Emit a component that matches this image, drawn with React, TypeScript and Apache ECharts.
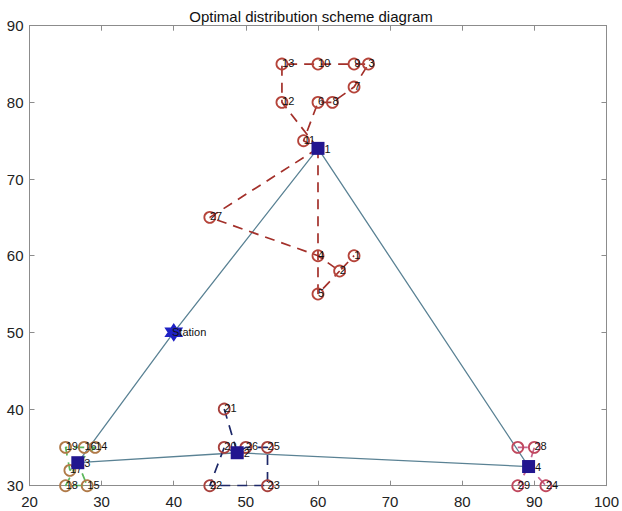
import React, { useEffect, useRef } from "react";
import * as echarts from "echarts";

const titleText = "Optimal distribution scheme diagram";
const xTicks = [20, 30, 40, 50, 60, 70, 80, 90, 100];
const yTicks = [30, 40, 50, 60, 70, 80, 90];

const station = [40, 50];
const stationName = "Station";

const centerNames = ["1", "2", "3", "4"];
const centerX = [60, 48.8, 26.7, 89.2];
const centerY = [74, 34.3, 33, 32.5];
// main route order (indices of centers), starts/ends at station
const mainRoute = [0, 3, 1, 2];

// cluster of center 1
const c1Labels = ["13", "10", "9", "3", "7", "12", "6", "8", "11", "27", "4", "2", "1", "5"];
const c1X = [55, 60, 65, 67, 65, 55, 60, 62, 58, 45, 60, 63, 65, 60];
const c1Y = [85, 85, 85, 85, 82, 80, 80, 80, 75, 65, 60, 58, 60, 55];
const c1Routes = [
  [-1, 5, 0, 1, 2, 3, 4, 7, 6, 8, -1],
  [-1, 9, 10, 11, 12],
  [-1, 13, 11],
];

// cluster of center 2
const c2Labels = ["21", "20", "26", "25", "22", "23"];
const c2X = [47, 47, 50, 53, 45, 53];
const c2Y = [40, 35, 35, 35, 30, 30];
const c2Routes = [[0, -1, 2, 3, 5, 4, 1, -1]];

// cluster of center 3
const c3Labels = ["19", "16", "14", "17", "18", "15"];
const c3X = [25, 27.6, 29.1, 25.6, 25, 28];
const c3Y = [35, 35, 35, 32, 30, 30];
const c3Routes = [
  [-1, 2, 1, 0, 3, -1],
  [-1, 4, 5, -1],
];

// cluster of center 4
const c4Labels = ["", "28", "29", "24"];
const c4X = [87.7, 90, 87.7, 91.6];
const c4Y = [35, 35, 30, 30];
const c4Routes = [
  [0, 1, -1, 3],
  [-1, 2],
];

const clusters = [
  { labels: c1Labels, xs: c1X, ys: c1Y, routes: c1Routes, lineColor: "#a3302a", circleColor: "#b5443a" },
  { labels: c2Labels, xs: c2X, ys: c2Y, routes: c2Routes, lineColor: "#1d2868", circleColor: "#a8413d" },
  { labels: c3Labels, xs: c3X, ys: c3Y, routes: c3Routes, lineColor: "#5cb85c", circleColor: "#b07a48" },
  { labels: c4Labels, xs: c4X, ys: c4Y, routes: c4Routes, lineColor: "#c8648e", circleColor: "#c0485e" },
];

const hexagram =
  "path://M50,0L64.43,25L93.3,25L78.87,50L93.3,75L64.43,75L50,100L35.57,75L6.7,75L21.13,50L6.7,25L35.57,25Z";

export default function App() {
  const ref = useRef<HTMLDivElement>(null);

  useEffect(() => {
    if (!ref.current) return;
    const chart = echarts.init(ref.current, undefined, { renderer: "svg" });
    const font = "'Liberation Sans', Arial, Helvetica, sans-serif";

    const series: any[] = [];

    const mainPts: number[][] = [station];
    mainRoute.forEach((i) => mainPts.push([centerX[i], centerY[i]]));
    mainPts.push(station);
    series.push({
      type: "line",
      data: mainPts,
      symbol: "none",
      lineStyle: { color: "#5a8294", width: 1.3 },
      z: 2,
      silent: true,
    });

    clusters.forEach((cl, ci) => {
      cl.routes.forEach((route) => {
        const pts = route.map((k) =>
          k < 0 ? [centerX[ci], centerY[ci]] : [cl.xs[k], cl.ys[k]]
        );
        series.push({
          type: "line",
          data: pts,
          symbol: "none",
          lineStyle: { color: cl.lineColor, width: 1.7, type: [10, 7] },
          z: 3,
          silent: true,
        });
      });
    });

    clusters.forEach((cl) => {
      series.push({
        type: "scatter",
        data: cl.xs.map((x, k) => ({ value: [x, cl.ys[k]], name: cl.labels[k] })),
        symbol: "circle",
        symbolSize: 11,
        itemStyle: {
          color: "rgba(255,255,255,0)",
          borderColor: cl.circleColor,
          borderWidth: 1.8,
          opacity: 1,
        },
        label: {
          show: true,
          formatter: "{b}",
          position: [6.5, 5.5],
          align: "left",
          verticalAlign: "middle",
          color: "#111",
          fontSize: 11,
          fontFamily: font,
        },
        z: 5,
      });
    });

    series.push({
      type: "scatter",
      data: centerX.map((x, i) => ({ value: [x, centerY[i]], name: centerNames[i] })),
      symbol: "rect",
      symbolSize: 13,
      itemStyle: { color: "#22168f", opacity: 1 },
      label: {
        show: true,
        formatter: "{b}",
        position: [13, 7],
        align: "left",
        verticalAlign: "middle",
        color: "#111",
        fontSize: 11,
        fontFamily: font,
      },
      z: 6,
    });

    series.push({
      type: "scatter",
      data: [{ value: station, name: stationName }],
      symbol: hexagram,
      symbolSize: 16,
      itemStyle: { color: "#1f22c4", borderColor: "#1f22c4", borderWidth: 1.5, opacity: 1 },
      label: {
        show: true,
        formatter: "{b}",
        position: [7, 8],
        align: "left",
        verticalAlign: "middle",
        color: "#111",
        fontSize: 11,
        fontFamily: font,
      },
      z: 6,
    });

    const axisLine = { show: true, lineStyle: { color: "#8c8c8c", width: 1 } };
    const axisTick = { show: true, inside: true, length: 5, lineStyle: { color: "#8c8c8c" } };

    chart.setOption({
      animation: false,
      backgroundColor: "#ffffff",
      title: {
        text: titleText,
        left: "center",
        top: 4,
        textStyle: { fontSize: 15, fontWeight: "normal", color: "#111", fontFamily: font },
      },
      grid: { left: 29.5, top: 25.7, width: 583, height: 460, containLabel: false },
      xAxis: [
        {
          type: "value",
          min: xTicks[0],
          max: xTicks[xTicks.length - 1],
          interval: 10,
          position: "bottom",
          axisLine,
          axisTick,
          splitLine: { show: false },
          axisLabel: { color: "#222", fontSize: 15, fontFamily: font, margin: 8 },
        },
        {
          type: "value",
          min: xTicks[0],
          max: xTicks[xTicks.length - 1],
          interval: 10,
          position: "top",
          axisLine,
          axisTick,
          splitLine: { show: false },
          axisLabel: { show: false },
        },
      ],
      yAxis: [
        {
          type: "value",
          min: yTicks[0],
          max: yTicks[yTicks.length - 1],
          interval: 10,
          position: "left",
          axisLine,
          axisTick,
          splitLine: { show: false },
          axisLabel: { color: "#222", fontSize: 15, fontFamily: font, margin: 6 },
        },
        {
          type: "value",
          min: yTicks[0],
          max: yTicks[yTicks.length - 1],
          interval: 10,
          position: "right",
          axisLine,
          axisTick,
          splitLine: { show: false },
          axisLabel: { show: false },
        },
      ],
      series,
    });

    return () => chart.dispose();
  }, []);

  return (
    <div
      ref={ref}
      style={{ position: "fixed", left: 0, top: 0, width: 622, height: 511, background: "#fff" }}
    />
  );
}
